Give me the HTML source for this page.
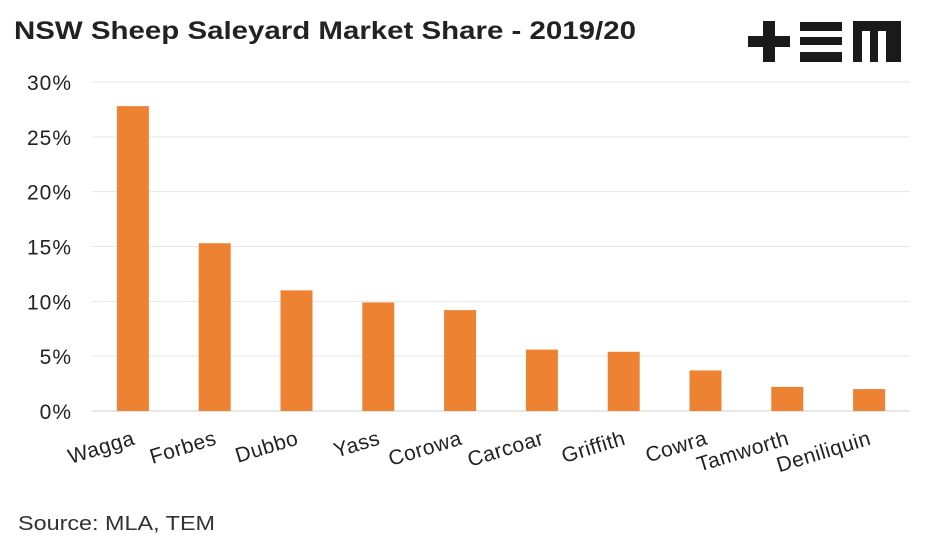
<!DOCTYPE html>
<html><head><meta charset="utf-8"><style>
body{margin:0;background:#fff;width:945px;height:537px;overflow:hidden;font-family:"Liberation Sans",sans-serif}
</style></head><body>
<svg width="945" height="537">
<text x="14" y="39" font-size="25" font-weight="bold" fill="#222" textLength="622" lengthAdjust="spacingAndGlyphs">NSW Sheep Saleyard Market Share - 2019/20</text>
<g fill="#1a1a1a">
<rect x="748" y="36" width="42" height="11"/><rect x="763" y="21" width="12" height="41"/>
<rect x="800" y="22" width="42" height="9"/><rect x="800" y="37" width="42" height="8"/><rect x="800" y="52" width="42" height="10"/>
<path d="M853 21H901V62H886V31H878V62H870V31H862V62H853Z"/>
</g>
<g id="grid"></g><g id="bars"></g><g id="labels"></g>
<text x="18" y="530" font-size="20" fill="#333" textLength="197" lengthAdjust="spacingAndGlyphs">Source: MLA, TEM</text>
</svg>
<script>
const categories=["Wagga","Forbes","Dubbo","Yass","Corowa","Carcoar","Griffith","Cowra","Tamworth","Deniliquin"];
const values=[27.8,15.3,11.0,9.9,9.2,5.6,5.4,3.7,2.2,2.0];
const ticks=[0,5,10,15,20,25,30];
const x0=92,x1=910,y0=411,y30=82;
const y=v=>y0-(y0-y30)*v/30;
const band=(x1-x0)/categories.length;
const xc=i=>x0+band*(i+0.5);
const NS="http://www.w3.org/2000/svg";
const g=document.getElementById('grid'),b=document.getElementById('bars'),l=document.getElementById('labels');
ticks.forEach(t=>{
 const ln=document.createElementNS(NS,'line');
 ln.setAttribute('x1',x0);ln.setAttribute('x2',x1);ln.setAttribute('y1',y(t));ln.setAttribute('y2',y(t));
 ln.setAttribute('stroke',t===0?'#d0d0d0':'#e6e6e6');ln.setAttribute('stroke-width',1);
 
 
 g.appendChild(ln);
 const tx=document.createElementNS(NS,'text');
 tx.setAttribute('x',72);tx.setAttribute('y',y(t)+8);tx.setAttribute('text-anchor','end');
 tx.setAttribute('font-size',21);tx.setAttribute('letter-spacing',1);tx.setAttribute('fill','#222');tx.textContent=t+'%';
 
 
 g.appendChild(tx);
});
categories.forEach((c,i)=>{
 const r=document.createElementNS(NS,'rect');
 r.setAttribute('x',xc(i)-16);r.setAttribute('width',32);r.setAttribute('y',y(values[i]));r.setAttribute('height',y0-y(values[i]));
 r.setAttribute('fill','#ee8233');
 
 
 b.appendChild(r);
 const tx=document.createElementNS(NS,'text');
 tx.setAttribute('text-anchor','end');tx.setAttribute('font-size',21);tx.setAttribute('letter-spacing',0.5);tx.setAttribute('fill','#222');
 tx.setAttribute('transform','translate('+(xc(i)+3)+',444) rotate(-17)');
 tx.textContent=c;
 
 
 l.appendChild(tx);
});
</script>
</body></html>
